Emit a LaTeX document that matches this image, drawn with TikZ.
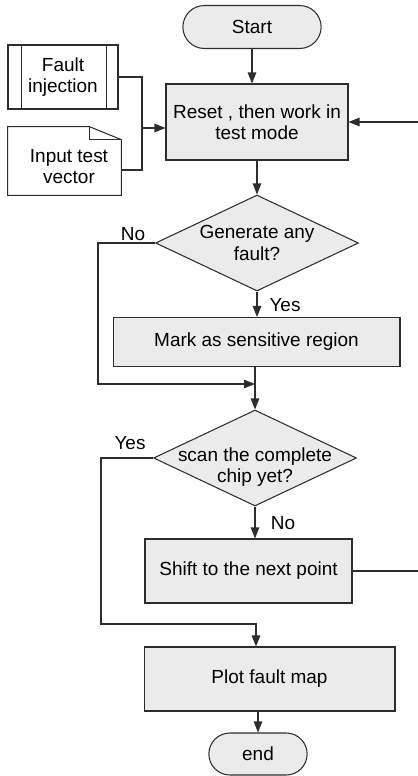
\documentclass[tikz,border=0pt]{standalone}
\usepackage{fontspec}
\setmainfont{Liberation Sans}
\usepackage{xcolor}
\usepackage{tikz}
\usetikzlibrary{shapes.geometric,shapes.misc,arrows.meta}

\definecolor{boxgray}{RGB}{235,235,235}
\definecolor{linegray}{RGB}{45,45,45}

\begin{document}
\begin{tikzpicture}[x=0.02cm, y=-0.02cm,
        every node/.style = {font=\fontsize{10.8}{12}\selectfont},
        box/.style = {rectangle, draw=linegray, line width=0.6pt,
            fill=boxgray, align=center},
        term/.style = {rounded rectangle, draw=linegray, line width=0.6pt,
            fill=boxgray, minimum width=3cm, minimum height=0.86cm},
        decision/.style = {diamond, draw=linegray, line width=0.6pt,
            fill=boxgray, minimum width=4.06cm, minimum height=1.92cm},
        line/.style = {draw=linegray, line width=0.6pt},
        arr/.style = {line, -{Triangle[length=0.22cm, width=0.17cm]}}]

        \useasboundingbox (0,0) rectangle (418,776);

        % Start and reset
        \node[term] (start) at (252,27) {Start};
        \node[box, minimum width=3.64cm, minimum height=1.52cm] (reset) at (257,122)
            {Reset , then work in\\test mode};

        % Inputs
        \node[box, fill=white, minimum width=2.2cm, minimum height=1.28cm] (inj) at (63,77)
            {Fault\\injection};
        \draw[line] ([xshift=0.28cm]inj.north west) -- ([xshift=0.28cm]inj.south west);
        \draw[line] ([xshift=-0.24cm]inj.north east) -- ([xshift=-0.24cm]inj.south east);

        \node[minimum width=2.26cm, minimum height=1.36cm,
            label={[align=center, xshift=0.09cm, yshift=-0.12cm]center:Input test\\vector}]
            (vec) at (64.5,161) {};
        \draw[line] (vec.south west) -- (vec.north west)
            -- ([xshift=-0.64cm]vec.north east) -- ([yshift=-0.26cm]vec.north east)
            -- (vec.south east) -- cycle;
        \draw[line] ([xshift=-0.64cm]vec.north east) |- ([yshift=-0.26cm]vec.north east);

        % Decisions and steps
        \node[decision, label={[align=center]center:Generate any\\fault?}] (fault) at (257,243) {};
        \node[box, minimum width=5.74cm, minimum height=0.98cm] (mark) at (256.5,342)
            {Mark as sensitive region};
        \node[decision, label={[align=center, yshift=-0.18cm]center:scan the complete\\chip yet?}]
            (scan) at (255,458) {};
        \node[box, minimum width=4.14cm, minimum height=1.28cm] (shift) at (248.5,571)
            {Shift to the next point};
        \node[box, minimum width=5.02cm, minimum height=1.28cm] (plot) at (269.5,679)
            {Plot fault map};
        \node[term, minimum width=2.2cm, minimum height=0.84cm] (end) at (258,754) {end};

        % Branch labels
        \node (no1) at (133,234) {No};
        \node (yes1) at (285,305) {Yes};
        \node (yes2) at (130,443) {Yes};
        \node (no2) at (283,523) {No};

        % Joins
        \coordinate (jn) at (142,128);
        \coordinate (m1) at (255,384);
        \coordinate (m2) at (256,624);
        \coordinate (fb) at (422,300);

        % Connectors
        \draw[arr] (start.south) -- (start.south |- reset.north);
        \draw[line] (inj.east) -| (jn);
        \draw[line] ([yshift=-0.18cm]vec.east) -| (jn);
        \draw[arr] (jn) -- (jn -| reset.west);
        \draw[arr] (reset.south -| fault.north) -- (fault.north);
        \draw[arr] (fault.south) -- (fault.south |- mark.north);
        \draw[arr] (fault.west) -- ++(-57,0) |- (m1);
        \draw[arr] (scan.north |- mark.south) -- (scan.north);
        \draw[arr] (scan.south) -- (scan.south |- shift.north);
        \draw[arr] (scan.west) -- ++(-52,0) |- (m2) -- (m2 |- plot.north);
        \draw[arr] (shift.east) -| (fb) |- (reset.east);
        \draw[arr] (end.north |- plot.south) -- (end.north);
    \end{tikzpicture}
\end{document}
